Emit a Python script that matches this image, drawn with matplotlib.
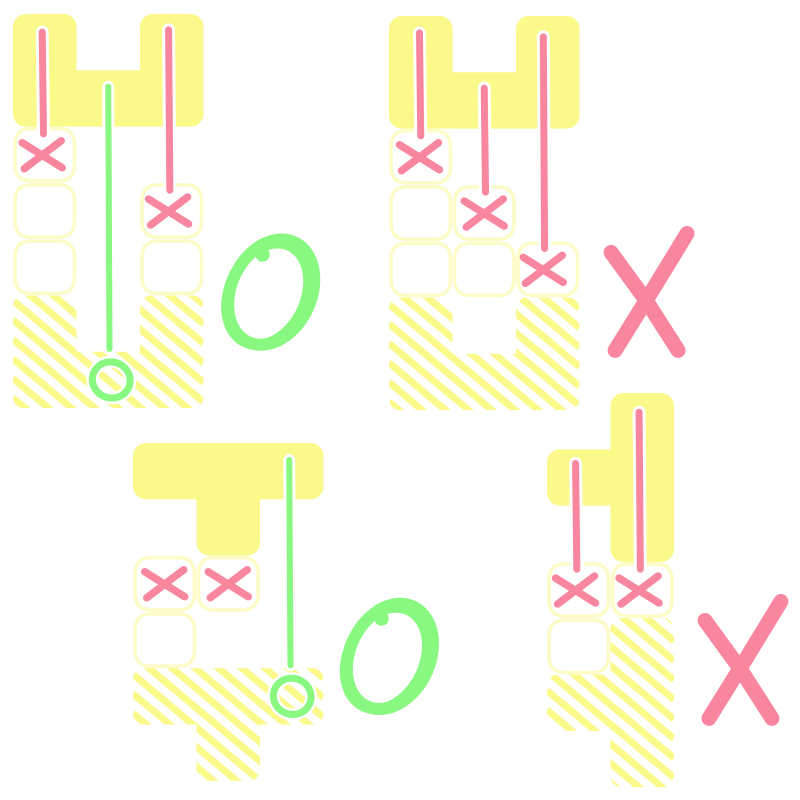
import numpy as np
import matplotlib
matplotlib.use("Agg")
import matplotlib.pyplot as plt
from matplotlib.path import Path
from matplotlib.patches import PathPatch, FancyBboxPatch, Ellipse
from matplotlib.collections import LineCollection
import matplotlib.patheffects as pe

# colours
YELLOW = '#FAF98A'
PALE = '#FDFBC6'
PINK = '#F8869F'
GREEN = '#88F880'
PT = 72 / 100  # pixels -> points at dpi 100

# cell size in pixels
CW, RH = 63.5, 56.3

# panels: grid origin, falling piece, free cells, filled (hatched) cells,
# drops (col, line start row, target row, mark, x nudge), verdict and its spot
panel_origin = [(13, 14), (389, 16), (133, 443), (547, 393)]
panel_piece = [
    [(0, 0), (2, 0), (0, 1), (1, 1), (2, 1)],
    [(0, 0), (2, 0), (0, 1), (1, 1), (2, 1)],
    [(0, 0), (1, 0), (2, 0), (1, 1)],
    [(1, 0), (0, 1), (1, 1), (1, 2)],
]
panel_free = [
    [(0, 2), (0, 3), (0, 4), (2, 3), (2, 4)],
    [(0, 2), (0, 3), (0, 4), (1, 3), (1, 4), (2, 4)],
    [(0, 2), (1, 2), (0, 3)],
    [(0, 3), (1, 3), (0, 4)],
]
panel_filled = [
    [(0, 5), (0, 6), (1, 6), (2, 5), (2, 6)],
    [(0, 5), (0, 6), (1, 6), (2, 5), (2, 6)],
    [(0, 4), (1, 4), (2, 4), (1, 5)],
    [(1, 4), (0, 5), (1, 5), (1, 6)],
]
panel_drops = [
    [(0, 0.32, 2, 'x', -0.04), (2, 0.28, 3, 'x', -0.05), (1, 1.29, 6, 'o', 0.0)],
    [(0, 0.30, 2, 'x', -0.02), (1, 1.28, 3, 'x', 0.0), (2, 0.37, 4, 'x', -0.07)],
    [(0, None, 2, 'x', 0.0), (1, None, 2, 'x', 0.0), (2, 0.30, 4, 'o', -0.04)],
    [(0, 1.25, 3, 'x', -0.05), (1, 0.34, 3, 'x', -0.05)],
]
panel_verdict = ['O', 'X', 'O', 'X']
verdict_spot = [(4.05, 4.94), (4.08, 4.91), (4.03, 3.79), (3.07, 4.75)]


def boundary(cells):
    edges = {}
    for c, r in cells:
        pts = [(c, r), (c + 1, r), (c + 1, r + 1), (c, r + 1)]
        for i in range(4):
            a, b = pts[i], pts[(i + 1) % 4]
            if (b, a) in edges:
                del edges[(b, a)]
            else:
                edges[(a, b)] = True
    nxt = {a: b for a, b in edges}
    start = min(nxt)
    loop = [start]
    p = nxt[start]
    while p != start:
        loop.append(p)
        p = nxt[p]
    out = []
    n = len(loop)
    for i in range(n):
        p0, p1, p2 = loop[i - 1], loop[i], loop[(i + 1) % n]
        if (p1[0] - p0[0]) * (p2[1] - p1[1]) - (p1[1] - p0[1]) * (p2[0] - p1[0]) != 0:
            out.append(p1)
    return out


def rounded_path(pts, rad):
    pts = np.array(pts, float)
    n = len(pts)
    area = sum(pts[i - 1][0] * pts[i][1] - pts[i][0] * pts[i - 1][1] for i in range(n))
    s = np.sign(area)
    k = 0.5523
    verts, codes = [], []
    for i in range(n):
        p, v, q = pts[i - 1], pts[i], pts[(i + 1) % n]
        d1, d2 = v - p, q - v
        cr = d1[0] * d2[1] - d1[1] * d2[0]
        if cr * s > 0:
            a = v + rad * (p - v) / np.linalg.norm(p - v)
            b = v + rad * (q - v) / np.linalg.norm(q - v)
            verts += [a, a + k * (v - a), b + k * (v - b), b]
            codes += [Path.LINETO, Path.CURVE4, Path.CURVE4, Path.CURVE4]
        else:
            verts.append(v)
            codes.append(Path.LINETO)
    codes[0] = Path.MOVETO
    verts.append(verts[0])
    codes.append(Path.CLOSEPOLY)
    return Path(verts, codes)


fig = plt.figure(figsize=(8, 8), dpi=100)
ax = fig.add_axes([0, 0, 1, 1])
ax.set_xlim(0, 800)
ax.set_ylim(800, 0)
ax.axis('off')

white_edge = lambda w: [pe.withStroke(linewidth=w, foreground='white')]

for (x0, y0), piece, free, filled, drops, verdict, spot in zip(
        panel_origin, panel_piece, panel_free, panel_filled, panel_drops,
        panel_verdict, verdict_spot):
    to_px = lambda g: (x0 + g[0] * CW, y0 + g[1] * RH)

    # falling piece
    path = rounded_path([to_px(g) for g in boundary(piece)], 13)
    ax.add_patch(PathPatch(path, facecolor=YELLOW, edgecolor='none', zorder=1))

    # filled rows, striped
    path = rounded_path([to_px(g) for g in boundary(filled)], 11)
    clip = PathPatch(path, facecolor='none', edgecolor='none')
    ax.add_patch(clip)
    ext = path.get_extents()
    slope = 0.84
    segs = []
    for c in np.arange(-900, 900, 19.5):
        ya = slope * ext.x0 + c
        yb = slope * ext.x1 + c
        if yb < ext.y0 - 5 or ya > ext.y1 + 5:
            continue
        segs.append([(ext.x0, ya), (ext.x1, yb)])
    lc = LineCollection(segs, colors=YELLOW, linewidths=7 * PT, zorder=1)
    lc.set_clip_path(clip)
    ax.add_collection(lc)

    # free cells
    for c, r in free:
        x, y = to_px((c, r))
        ax.add_patch(FancyBboxPatch((x + 2, y + 2), CW - 4, RH - 4,
                                    boxstyle="round,pad=0,rounding_size=16",
                                    facecolor='white', edgecolor=PALE,
                                    linewidth=3.5 * PT, zorder=1.5))

    # drops and marks
    for col, start, row, mark, dx in drops:
        color = PINK if mark == 'x' else GREEN
        cx = x0 + (col + 0.5 + dx) * CW
        if start is not None:
            end = row + 0.13 if mark == 'x' else row - 0.05
            lw = 7 if mark == 'x' else 6
            ax.plot([cx, cx + 0.02 * CW], [y0 + start * RH, y0 + end * RH],
                    color=color, lw=lw * PT, solid_capstyle='round', zorder=3,
                    path_effects=white_edge((lw + 6) * PT))
        cy = y0 + (row + 0.5) * RH
        if mark == 'x':
            for (ax0, ay0), (ax1, ay1) in [((-20, -12), (20, 13)), ((-18, 14), (19, -14))]:
                ax.plot([cx + ax0, cx + ax1], [cy + ay0, cy + ay1], color=PINK,
                        lw=7.5 * PT, solid_capstyle='round', zorder=4)
        else:
            ax.add_patch(Ellipse((cx + 3, cy), 38, 36, angle=20, facecolor='none',
                                 edgecolor=GREEN, linewidth=7 * PT, zorder=4,
                                 path_effects=white_edge(12 * PT)))

    # verdict
    vx, vy = to_px(spot)
    if verdict == 'O':
        ax.add_patch(Ellipse((vx + 1, vy), 80, 110, angle=25, facecolor='none',
                             edgecolor=GREEN, linewidth=12 * PT, zorder=4))
        ax.add_patch(Ellipse((vx - 3, vy + 2), 76, 106, angle=25, facecolor='none',
                             edgecolor=GREEN, linewidth=10 * PT, zorder=4))
        ax.plot([vx - 8], [vy - 38], 'o', color=GREEN, ms=13 * PT, zorder=4)
    else:
        for pts in [[(39, -59), (3, 0), (-33, 58)], [(-37, -40), (-2, 8), (30, 58)]]:
            xs = [vx + p[0] for p in pts]
            ys = [vy + p[1] for p in pts]
            ax.plot(xs, ys, color=PINK, lw=15 * PT, solid_capstyle='round',
                    solid_joinstyle='round', zorder=4)

fig.savefig('out.png', dpi=100)
